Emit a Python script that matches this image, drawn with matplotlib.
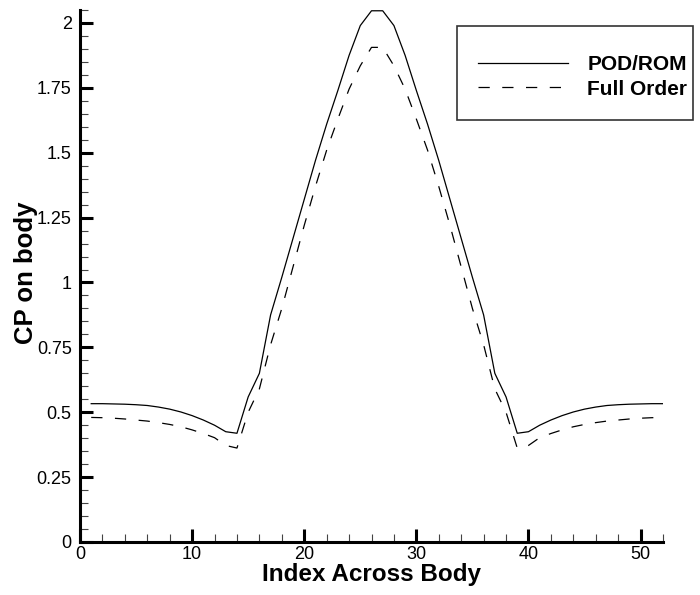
import matplotlib
matplotlib.use('Agg')
import matplotlib.pyplot as plt
import numpy as np
from matplotlib.ticker import MultipleLocator, FuncFormatter
from matplotlib.patches import Rectangle

plt.rcParams['font.family'] = ['Liberation Sans', 'DejaVu Sans']

# index across body, 1..52
idx = np.arange(1, 53)

# left half (1..26), the curves are symmetric about 26.5
rom_half = [0.533, 0.533, 0.532, 0.531, 0.529, 0.526, 0.520, 0.512, 0.501, 0.487,
            0.470, 0.450, 0.425, 0.419, 0.559, 0.650, 0.875, 1.020, 1.170, 1.320,
            1.470, 1.610, 1.740, 1.875, 1.990, 2.047]
full_half = [0.480, 0.479, 0.477, 0.474, 0.470, 0.466, 0.460, 0.453, 0.444, 0.432,
             0.418, 0.402, 0.372, 0.362, 0.500, 0.590, 0.760, 0.900, 1.060, 1.220,
             1.370, 1.510, 1.630, 1.745, 1.835, 1.906]
cp_rom = rom_half + rom_half[::-1]
cp_full = full_half + full_half[::-1]

fig = plt.figure(figsize=(7, 5.95), dpi=100)
ax = fig.add_axes([80/700, 1-542/595, 583/700, 532/595])

ax.plot(idx, cp_rom, color='black', lw=0.9, label='POD/ROM')
ax.plot(idx, cp_full, color='black', lw=0.9, linestyle=(0, (9, 10)), label='Full Order')

ax.set_xlim(0, 52)
ax.set_ylim(0, 2.05)

ax.spines['top'].set_visible(False)
ax.spines['right'].set_visible(False)
ax.spines['left'].set_linewidth(2.2)
ax.spines['bottom'].set_linewidth(2.2)

ax.xaxis.set_major_locator(MultipleLocator(10))
ax.xaxis.set_minor_locator(MultipleLocator(2))
ax.yaxis.set_major_locator(MultipleLocator(0.25))
ax.yaxis.set_minor_locator(MultipleLocator(0.05))
ax.yaxis.set_major_formatter(FuncFormatter(lambda v, p: '%g' % v))

ax.tick_params(which='major', direction='in', length=9.5, width=2.2, labelsize=13, colors='black')
ax.tick_params(which='minor', direction='in', length=5.5, width=0.8, color='#444444')
ax.tick_params(axis='y', which='major', pad=6)
ax.tick_params(axis='x', which='major', pad=3)

ax.set_xlabel('Index Across Body', fontsize=17.5, fontweight='bold', labelpad=0)
ax.set_ylabel('CP on body', fontsize=18.5, fontweight='bold')
ax.yaxis.set_label_coords(-0.072, 0.507)

# legend box
fig.patches.append(Rectangle((457/700, 1-120/595), 236/700, 94/595, transform=fig.transFigure,
                             fill=False, edgecolor='#333333', lw=1.2))
leg = ax.legend(loc='center left', bbox_to_anchor=(478/700, 1-77/595), bbox_transform=fig.transFigure,
                frameon=False, prop={'weight': 'bold', 'size': 15}, handlelength=4.3,
                handletextpad=0.95, labelspacing=0.25, borderpad=0, borderaxespad=0)

fig.savefig('out.png', dpi=100)
